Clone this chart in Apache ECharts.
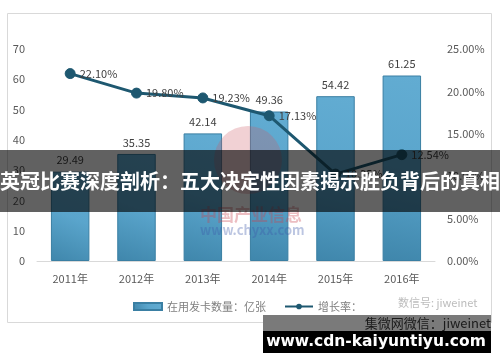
<!DOCTYPE html>
<html>
<head>
<meta charset="utf-8">
<script src="https://cdn.jsdelivr.net/npm/echarts@6/dist/echarts.min.js"></script>
<style>html,body{margin:0;padding:0;background:#fff;}#c{width:500px;height:362px;}</style>
</head>
<body>
<div id="c"></div>
<script>
const categories = ['2011年', '2012年', '2013年', '2014年', '2015年', '2016年'];
const cardCounts = [29.49, 35.35, 42.14, 49.36, 54.42, 61.25];
const growthRates = [22.10, 19.80, 19.23, 17.13, 10.25, 12.54];
const barName = '在用发卡数量：亿张';
const lineName = '增长率：';
const titleText = '英冠比赛深度剖析：五大决定性因素揭示胜负背后的真相';
const siteText = 'www.cdn-kaiyuntiyu.com';

const font = '"Noto Sans CJK SC", "Noto Sans", sans-serif';
const chart = echarts.init(document.getElementById('c'));
chart.setOption({
  animation: false,
  textStyle: { fontFamily: font },
  grid: { left: 37, right: 65, top: 49, bottom: 101 },
  legend: {
    left: 128, top: 296, itemWidth: 28, itemHeight: 7, itemGap: 18,
    textStyle: { color: '#7f7f7f', fontSize: 11, fontFamily: font },
    data: [{ name: barName, icon: 'rect' }, { name: lineName }]
  },
  xAxis: {
    type: 'category', data: categories,
    axisLine: { lineStyle: { color: '#d9d9d9' } },
    axisTick: { show: false },
    axisLabel: { color: '#595959', fontSize: 11, margin: 12 }
  },
  yAxis: [
    { type: 'value', min: 0, max: 70, interval: 10,
      axisLine: { show: false }, axisTick: { show: false }, splitLine: { show: false },
      axisLabel: { color: '#595959', fontSize: 11, margin: 12 } },
    { type: 'value', min: 0, max: 25, interval: 5,
      axisLine: { show: false }, axisTick: { show: false }, splitLine: { show: false },
      axisLabel: { color: '#595959', fontSize: 11, margin: 12, formatter: v => v.toFixed(2) + '%' } }
  ],
  series: [
    { name: barName, type: 'bar', data: cardCounts, barWidth: '58%',
      itemStyle: {
        color: new echarts.graphic.LinearGradient(0, 1, 1, 0, [
          { offset: 0, color: '#3f86ab' }, { offset: 0.5, color: '#5aa5cc' }, { offset: 1, color: '#62acd2' }
        ]),
        borderColor: '#3a7fa3', borderWidth: 1
      },
      label: { show: true, position: 'top', color: '#404040', fontSize: 11, distance: 6 } },
    { name: lineName, type: 'line', yAxisIndex: 1, data: growthRates,
      symbol: 'circle', symbolSize: 10,
      lineStyle: { color: '#1e5870', width: 3 },
      itemStyle: { color: '#1e5870', borderColor: '#1e5870' },
      label: { show: true, position: 'right', color: '#404040', fontSize: 11, distance: 4,
        formatter: p => p.value.toFixed(2) + '%' }, z: 3 }
  ],
  graphic: [
    { type: 'rect', shape: { x: 7.5, y: 13.5, width: 484, height: 309 }, style: { fill: 'none', stroke: '#d9d9d9', lineWidth: 1 }, z: 0 },
    { type: 'circle', shape: { cx: 248, cy: 160, r: 34 }, style: { fill: 'rgba(205,90,100,0.28)' }, z: 10 },
    { type: 'text', left: 200, top: 206, style: { text: '中国产业信息', fill: 'rgba(200,70,80,0.35)', font: 'bold 17px ' + font }, z: 10 },
    { type: 'text', left: 200, top: 224, style: { text: 'www.chyxx.com', fill: 'rgba(60,90,170,0.35)', font: 'bold 13px ' + font }, z: 10 },
    { type: 'text', left: 398, top: 297, style: { text: '数信号: jiweinet', fill: 'rgba(120,120,120,0.5)', font: '11px ' + font }, z: 10 },
    { type: 'rect', shape: { x: 0, y: 150, width: 500, height: 62 }, style: { fill: 'rgba(0,0,0,0.62)' }, z: 20 },
    { type: 'text', x: 250, y: 181, style: { text: titleText, fill: '#ffffff', font: 'bold 20px ' + font, align: 'center', verticalAlign: 'middle' }, z: 21 },
    { type: 'rect', shape: { x: 263, y: 315, width: 228, height: 16 }, style: { fill: '#7a7a7a' }, z: 20 },
    { type: 'text', x: 491, y: 323, style: { text: '集微网微信：jiweinet', fill: '#1a1a1a', font: '13px ' + font, align: 'right', verticalAlign: 'middle' }, z: 21 },
    { type: 'rect', shape: { x: 263, y: 331, width: 228, height: 22 }, style: { fill: '#000000' }, z: 20 },
    { type: 'text', x: 376, y: 342, style: { text: siteText, fill: '#ffffff', font: 'bold 15.5px "DejaVu Sans", sans-serif', align: 'center', verticalAlign: 'middle' }, z: 21 }
  ]
});
</script>
</body>
</html>
